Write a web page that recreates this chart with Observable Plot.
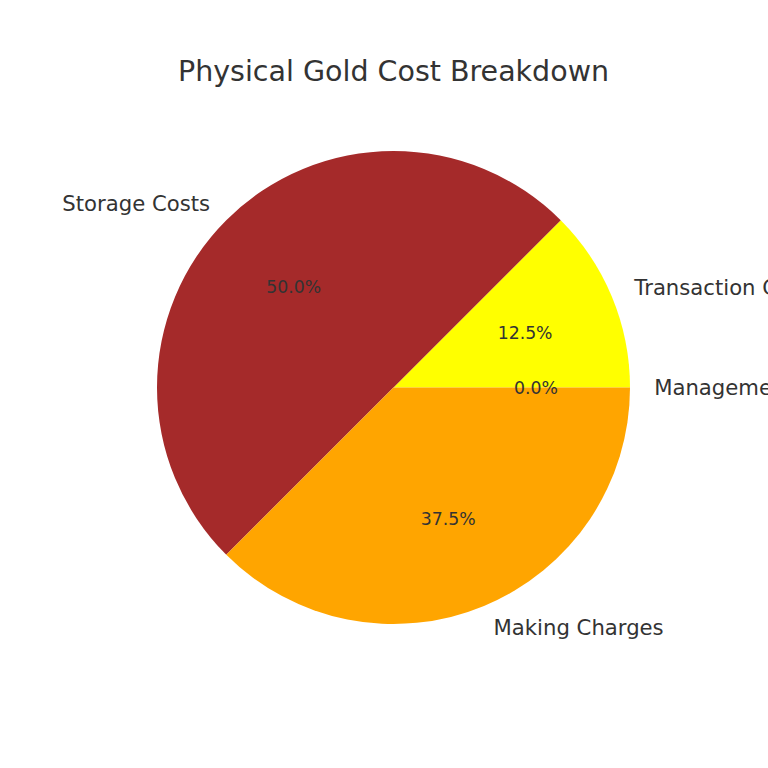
<!DOCTYPE html>
<html>
<head>
<meta charset="utf-8">
<script src="https://cdn.jsdelivr.net/npm/d3@7"></script>
<script src="https://cdn.jsdelivr.net/npm/@observablehq/plot@0.6"></script>
<style>
  html, body { margin: 0; padding: 0; background: #fff; overflow: hidden; width: 768px; height: 768px; }
  #title { height: 110px; position: relative; font-family: "DejaVu Sans", sans-serif; font-size: 28.5px; color: #333333; }
  #title span { position: absolute; left: 0; width: 787px; top: 55px; text-align: center; line-height: 34px; white-space: nowrap; }
  #chart svg { display: block; overflow: hidden; }
</style>
</head>
<body>
<div id="title"><span>Physical Gold Cost Breakdown</span></div>
<div id="chart"></div>
<script>
const categories = ["Transaction Costs", "Storage Costs", "Making Charges", "Management Fees"];
const values = [12.5, 50, 37.5, 0];
const colors = ["#FFFF00", "#A52A2A", "#FFA500", "#D3D3D3"];

// matplotlib-style pie: start at 0° (east), counterclockwise
const total = d3.sum(values);
let acc = 0;
const slices = categories.map((name, i) => {
  const a0 = acc / total * 2 * Math.PI;
  acc += values[i];
  const a1 = acc / total * 2 * Math.PI;
  const mid = (a0 + a1) / 2;
  return {
    name, value: values[i], color: colors[i], a0, a1,
    lx: 1.1 * Math.cos(mid), ly: 1.1 * Math.sin(mid),
    px: 0.6 * Math.cos(mid), py: 0.6 * Math.sin(mid),
    pct: (values[i] / total * 100).toFixed(1) + "%"
  };
});

const W = 768, H = 658, R = 236.5, cx = 393.5, cy = 277.5;
const xDomain = [-cx / R, (W - cx) / R];
const yDomain = [-(H - cy) / R, cy / R];

function pieMark(index, scales) {
  const g = d3.create("svg:g");
  const x0 = scales.x(0), y0 = scales.y(0);
  const r = scales.x(1) - scales.x(0);
  for (const s of slices) {
    if (s.a1 - s.a0 <= 0) continue;
    // convert math angles (ccw from east) to d3.arc angles (cw from north)
    const arc = d3.arc()
      .innerRadius(0).outerRadius(r)
      .startAngle(Math.PI / 2 - s.a1)
      .endAngle(Math.PI / 2 - s.a0);
    g.append("path")
      .attr("transform", `translate(${x0},${y0})`)
      .attr("d", arc())
      .attr("fill", s.color);
  }
  return g.node();
}

const labelFont = 21.2;
const plot = Plot.plot({
  width: W,
  height: H,
  margin: 0,
  x: { domain: xDomain, axis: null },
  y: { domain: yDomain, axis: null },
  style: { fontFamily: "DejaVu Sans, sans-serif", background: "#fff" },
  marks: [
    pieMark,
    Plot.text(slices.filter(d => d.lx < 0), {
      x: "lx", y: "ly", text: "name", textAnchor: "end",
      fontSize: labelFont, fill: "#333333"
    }),
    Plot.text(slices.filter(d => d.lx >= 0), {
      x: "lx", y: "ly", text: "name", textAnchor: "start",
      fontSize: labelFont, fill: "#333333"
    }),
    Plot.text(slices, {
      x: "px", y: "py", text: "pct",
      fontSize: 17.3, fill: "#333333"
    })
  ]
});
document.getElementById("chart").appendChild(plot);
</script>
</body>
</html>
